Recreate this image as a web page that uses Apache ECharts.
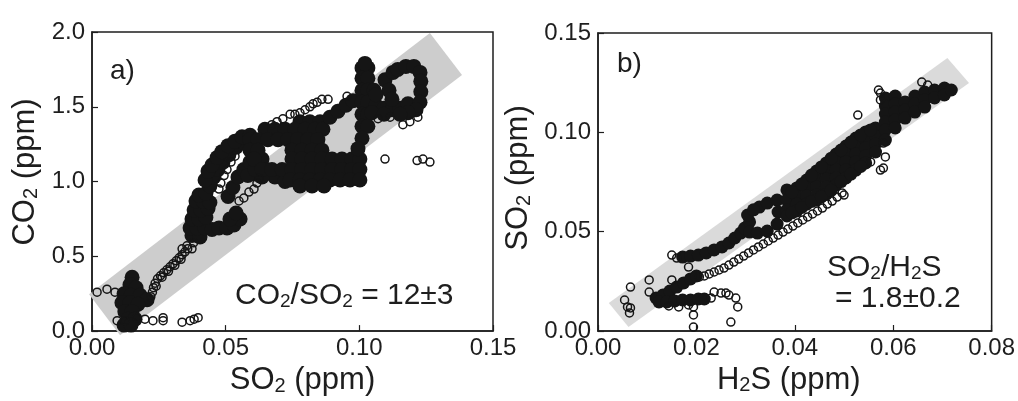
<!DOCTYPE html>
<html>
<head>
<meta charset="utf-8">
<script src="https://cdn.jsdelivr.net/npm/echarts@6/dist/echarts.min.js"></script>
<style>
  html, body { margin: 0; padding: 0; background: #fff; }
  #main { width: 1018px; height: 401px; }
</style>
</head>
<body>
<div id="main"></div>
<script>
// axis ranges: [min, max, interval]
var aXRange = [0, 0.15, 0.05];
var aYRange = [0, 2.0, 0.5];
var bXRange = [0, 0.08, 0.02];
var bYRange = [0, 0.15, 0.05];

// grey ratio bands (corners, data units)
var bandA = [[-0.0011, 0.247], [0.0105, -0.027], [0.1384, 1.713], [0.1264, 1.993]];
var bandB = [[0.0022, 0.0141], [0.0062, 0.0020], [0.0754, 0.1248], [0.0710, 0.1374]];

// a) SO2 vs CO2, dense parts of the cloud
var aDense = [
  [0.0150,0.36],[0.0142,0.31],[0.0165,0.29],[0.0120,0.25],[0.0146,0.24],[0.0180,0.24],[0.0206,0.21],
  [0.0112,0.19],[0.0142,0.19],[0.0172,0.18],[0.0123,0.13],[0.0150,0.13],[0.0135,0.08],[0.0161,0.08],
  [0.0120,0.04],[0.0146,0.04],
  [0.0374,0.64],[0.0404,0.63],[0.0367,0.69],[0.0393,0.69],[0.0423,0.69],[0.0449,0.68],[0.0475,0.69],
  [0.0505,0.69],[0.0531,0.71],[0.0554,0.75],[0.0374,0.75],[0.0400,0.75],[0.0426,0.76],[0.0516,0.75],
  [0.0539,0.79],[0.0382,0.81],[0.0408,0.81],[0.0434,0.82],[0.0389,0.87],[0.0415,0.87],[0.0441,0.86],
  [0.0400,0.91],[0.0426,0.92],
  [0.0441,0.97],[0.0456,1.03],[0.0471,1.08],[0.0490,1.13],[0.0512,1.18],[0.0539,1.23],[0.0568,1.26],
  [0.0423,1.01],[0.0434,1.07],[0.0449,1.11],[0.0468,1.16],[0.0486,1.20],[0.0509,1.24],[0.0535,1.27],
  [0.0561,1.30],[0.0591,1.31],
  [0.0509,0.90],[0.0527,0.96],[0.0546,1.03],[0.0568,1.08],[0.0591,1.13],[0.0613,1.18],[0.0636,1.15],
  [0.0651,1.08],[0.0613,1.05],[0.0583,1.04],[0.0684,1.03],[0.0722,1.00],
  [0.0636,1.03],[0.0610,1.08],
  [0.0778,1.40],[0.0815,1.40],[0.0853,1.40],
  [0.0647,1.35],[0.0684,1.35],[0.0722,1.35],[0.0759,1.35],[0.0797,1.35],[0.0834,1.35],[0.0864,1.35],
  [0.0591,1.28],[0.0621,1.28],[0.0658,1.28],[0.0696,1.28],[0.0733,1.28],[0.0770,1.28],[0.0808,1.28],[0.0845,1.28],
  [0.0591,1.21],[0.0621,1.21],[0.0748,1.21],[0.0785,1.21],[0.0823,1.21],[0.0860,1.21],
  [0.0606,1.15],[0.0748,1.15],[0.0785,1.15],[0.0823,1.15],[0.0860,1.15],[0.0898,1.15],[0.0935,1.15],[0.0972,1.15],[0.1002,1.15],
  [0.0636,1.08],[0.0673,1.08],[0.0711,1.08],[0.0748,1.08],[0.0785,1.08],[0.0823,1.08],[0.0860,1.08],[0.0898,1.08],
  [0.0935,1.08],[0.0972,1.08],[0.1002,1.08],
  [0.0741,1.01],[0.0778,1.01],[0.0815,1.01],[0.0853,1.01],[0.0890,1.01],[0.0928,1.01],[0.0965,1.01],[0.1002,1.01],
  [0.0778,0.97],[0.0823,0.97],[0.0868,0.97],
  [0.0890,1.43],[0.0920,1.47],[0.0950,1.51],[0.0976,1.54],
  [0.1010,1.76],[0.1032,1.76],[0.1010,1.69],[0.1032,1.69],[0.1010,1.61],[0.1032,1.61],[0.1010,1.53],[0.1032,1.53],
  [0.1010,1.45],[0.1032,1.45],[0.1010,1.37],[0.1032,1.37],[0.1010,1.29],[0.1021,1.79],[0.0995,1.22],
  [0.1062,1.51],[0.1092,1.49],[0.1122,1.48],[0.1152,1.49],[0.1182,1.52],[0.1047,1.46],[0.1092,1.45],
  [0.1096,1.68],[0.1111,1.61],[0.1122,1.55],[0.1055,1.61],[0.1062,1.58],[0.1126,1.73],[0.1144,1.75],[0.1174,1.77],
  [0.1204,1.77],[0.1227,1.73],[0.1230,1.67],[0.1230,1.60],[0.1227,1.53],[0.1212,1.48],[0.1182,1.46],[0.1152,1.45]
];

// a) single open circles
var aOpen = [
  [0.0019,0.26],[0.0056,0.28],[0.0086,0.26],
  [0.0094,0.07],[0.0123,0.07],[0.0168,0.09],[0.0198,0.08],[0.0228,0.07],[0.0266,0.09],[0.0266,0.07],
  [0.0337,0.06],[0.0367,0.07],[0.0382,0.08],[0.0397,0.09],
  [0.0220,0.23],[0.0226,0.26],[0.0230,0.29],[0.0236,0.32],[0.0245,0.35],[0.0256,0.37],[0.0268,0.39],
  [0.0280,0.41],[0.0292,0.43],[0.0303,0.45],[0.0315,0.47],[0.0326,0.49],[0.0337,0.51],[0.0348,0.53],
  [0.0358,0.55],[0.0240,0.30],[0.0262,0.36],[0.0286,0.40],[0.0310,0.44],[0.0333,0.48],[0.0337,0.55],
  [0.0355,0.57],[0.0374,0.55],[0.0380,0.59],
  [0.0475,0.95],[0.0482,0.99],[0.0494,1.04],[0.0505,1.08],[0.0520,1.13],[0.0535,1.17],
  [0.0550,0.87],[0.0568,0.89],[0.0587,0.93],[0.0606,0.95],[0.0617,0.99],[0.0625,1.02],
  [0.0673,1.38],[0.0692,1.40],[0.0714,1.42],[0.0741,1.45],[0.0759,1.45],[0.0778,1.46],[0.0797,1.48],
  [0.0815,1.50],[0.0827,1.52],[0.0842,1.53],[0.0860,1.55],[0.0883,1.55],[0.0954,1.57],
  [0.1070,1.42],[0.1115,1.43],[0.1163,1.38],[0.1219,1.43],[0.1189,1.40],
  [0.1096,1.15],[0.1216,1.14],[0.1238,1.15],[0.1264,1.13]
];

// b) H2S vs SO2, dense parts
var bDense = [
  [0.0172,0.0372],[0.0188,0.0377],[0.0204,0.0382],[0.0220,0.0393],[0.0236,0.0408],[0.0252,0.0423],
  [0.0266,0.0443],[0.0278,0.0468],[0.0290,0.0493],[0.0298,0.0518],
  [0.0308,0.0549],[0.0308,0.0498],[0.0324,0.0493],[0.0328,0.0624],[0.0344,0.0644],[0.0344,0.0503],
  [0.0304,0.0584],[0.0316,0.0610],
  [0.0364,0.0659],[0.0366,0.0599],[0.0364,0.0538],
  [0.0384,0.0710],[0.0384,0.0659],[0.0384,0.0609],[0.0384,0.0579],
  [0.0404,0.0720],[0.0404,0.0679],[0.0404,0.0639],[0.0404,0.0604],
  [0.0424,0.0760],[0.0424,0.0720],[0.0424,0.0679],[0.0424,0.0639],
  [0.0444,0.0805],[0.0444,0.0765],[0.0444,0.0725],[0.0444,0.0684],[0.0444,0.0659],
  [0.0464,0.0846],[0.0464,0.0805],[0.0464,0.0765],[0.0464,0.0725],[0.0464,0.0689],
  [0.0484,0.0891],[0.0484,0.0851],[0.0484,0.0810],[0.0484,0.0770],[0.0484,0.0735],
  [0.0504,0.0931],[0.0504,0.0891],[0.0504,0.0851],[0.0504,0.0810],[0.0504,0.0770],
  [0.0524,0.0971],[0.0524,0.0931],[0.0524,0.0891],[0.0524,0.0851],[0.0524,0.0810],
  [0.0544,0.1002],[0.0544,0.0961],[0.0544,0.0921],[0.0544,0.0881],[0.0544,0.0846],
  [0.0564,0.1022],[0.0564,0.0981],[0.0564,0.0941],[0.0564,0.0901],
  [0.0584,0.1173],[0.0584,0.1132],[0.0584,0.1092],[0.0584,0.1052],[0.0584,0.1012],[0.0584,0.0961],
  [0.0604,0.1183],[0.0604,0.1142],[0.0604,0.1102],[0.0604,0.1062],[0.0604,0.1022],
  [0.0624,0.1153],[0.0624,0.1112],[0.0624,0.1072],
  [0.0644,0.1183],[0.0644,0.1142],[0.0644,0.1102],
  [0.0664,0.1203],[0.0664,0.1163],[0.0664,0.1127],
  [0.0684,0.1213],[0.0684,0.1173],[0.0704,0.1223],[0.0704,0.1188],[0.0718,0.1213],
  [0.0394,0.0700],[0.0414,0.0740],[0.0434,0.0785],[0.0454,0.0826],[0.0474,0.0870],[0.0494,0.0911],
  [0.0514,0.0951],[0.0534,0.0987],[0.0554,0.1012],
  [0.0394,0.0595],[0.0414,0.0622],[0.0434,0.0652],[0.0454,0.0676],[0.0474,0.0708],[0.0494,0.0752],
  [0.0514,0.0790],[0.0534,0.0828],
  [0.0118,0.0166],[0.0132,0.0181],[0.0146,0.0201],[0.0160,0.0221],[0.0174,0.0242],[0.0188,0.0262],[0.0200,0.0277],
  [0.0124,0.0146],[0.0140,0.0146],[0.0156,0.0151],[0.0172,0.0156],[0.0188,0.0156],[0.0204,0.0161],[0.0216,0.0161]
];

// b) open circles
var bOpen = [
  [0.0206,0.0272],[0.0216,0.0277],[0.0226,0.0287],[0.0236,0.0297],[0.0246,0.0307],[0.0256,0.0317],
  [0.0266,0.0332],[0.0276,0.0347],[0.0286,0.0362],[0.0296,0.0377],[0.0306,0.0393],[0.0316,0.0408],
  [0.0326,0.0423],[0.0336,0.0438],[0.0346,0.0453],[0.0356,0.0468],[0.0366,0.0483],[0.0376,0.0498],
  [0.0386,0.0513],[0.0396,0.0528],[0.0406,0.0544],[0.0416,0.0559],[0.0426,0.0574],[0.0436,0.0589],
  [0.0446,0.0604],[0.0456,0.0619],[0.0466,0.0639],[0.0476,0.0654],[0.0486,0.0674],[0.0496,0.0695],
  [0.0066,0.0221],[0.0104,0.0257],[0.0150,0.0257],[0.0184,0.0322],[0.0054,0.0156],[0.0060,0.0121],
  [0.0064,0.0091],[0.0066,0.0116],[0.0104,0.0196],[0.0194,0.0121],[0.0194,0.0081],[0.0194,0.0020],
  [0.0230,0.0166],[0.0236,0.0196],[0.0250,0.0191],[0.0260,0.0191],[0.0266,0.0181],[0.0280,0.0166],
  [0.0284,0.0121],[0.0270,0.0045],[0.0150,0.0382],[0.0160,0.0367],
  [0.0144,0.0126],[0.0164,0.0121],[0.0184,0.0131],
  [0.0570,0.1213],[0.0574,0.1198],[0.0574,0.1163],[0.0528,0.1087],[0.0658,0.1253],[0.0670,0.1238],
  [0.0580,0.0946],[0.0584,0.0876],[0.0580,0.0820],[0.0574,0.0810],[0.0554,0.0851],[0.0500,0.0684]
];

var font = 'Liberation Sans, Arial, Helvetica, sans-serif';
var ink = '#1e1e1e';

var nameRich = {
  n: { fontSize: 31, fontFamily: font, color: ink, fill: ink, lineHeight: 34, verticalAlign: 'bottom' },
  s: { fontSize: 20, fontFamily: font, color: ink, fill: ink, lineHeight: 22, verticalAlign: 'bottom' }
};
var noteRich = {
  n: { fontSize: 30, fontFamily: font, color: ink, fill: ink, lineHeight: 32, verticalAlign: 'bottom' },
  s: { fontSize: 19, fontFamily: font, color: ink, fill: ink, lineHeight: 21, verticalAlign: 'bottom' }
};

function xAxisFor(range, grid, name, digits, shift, gap) {
  return {
    type: 'value', gridIndex: grid, min: range[0], max: range[1], interval: range[2],
    name: name, nameLocation: 'middle', nameGap: gap,
    nameTextStyle: { rich: nameRich, padding: shift },
    axisLine: { lineStyle: { color: ink, width: 1.5 } },
    axisTick: { inside: true, length: 6, lineStyle: { color: ink, width: 1.2 } },
    splitLine: { show: false },
    axisLabel: {
      fontSize: 24, fontFamily: font, color: ink, margin: 5,
      formatter: function (v) { return v.toFixed(digits); }
    }
  };
}

function yAxisFor(range, grid, digits, lift) {
  return {
    type: 'value', gridIndex: grid, min: range[0], max: range[1], interval: range[2],
    axisLine: { lineStyle: { color: ink, width: 1.5 } },
    axisTick: { inside: true, length: 6, lineStyle: { color: ink, width: 1.2 } },
    splitLine: { show: false },
    axisLabel: {
      fontSize: 24, fontFamily: font, color: ink, margin: 7, padding: [0, 0, lift, 0],
      formatter: function (v) { return v.toFixed(digits); }
    }
  };
}

function band(points, axis, color) {
  return {
    type: 'custom', xAxisIndex: axis, yAxisIndex: axis, silent: true, clip: false, z: 1,
    data: [0],
    renderItem: function (params, api) {
      var pts = points.map(function (p) { return api.coord(p); });
      return { type: 'polygon', shape: { points: pts }, style: { fill: color } };
    }
  };
}

function dots(data, axis, size, filled) {
  return {
    type: 'scatter', xAxisIndex: axis, yAxisIndex: axis, data: data,
    symbol: 'circle', symbolSize: size, silent: true, z: filled ? 2 : 3,
    itemStyle: {
      color: filled ? '#151515' : 'rgba(255,255,255,0)',
      borderColor: '#151515', borderWidth: filled ? 0 : 1.5, opacity: 1
    }
  };
}

var chart = echarts.init(document.getElementById('main'));
var option = {
  animation: false,
  backgroundColor: '#fff',
  grid: [
    { left: 92, top: 32, width: 401, height: 300, show: true, borderColor: ink, borderWidth: 1.5 },
    { left: 598, top: 33, width: 400, height: 298, show: true, borderColor: ink, borderWidth: 1.5 }
  ],
  xAxis: [
    xAxisFor(aXRange, 0, '{n|SO}{s|2}{n| (ppm)}', 2, [0, 0, 0, 20], 27),
    xAxisFor(bXRange, 1, '{n|H}{s|2}{n|S (ppm)}', 2, [0, 12, 0, 0], 28)
  ],
  yAxis: [
    yAxisFor(aYRange, 0, 1, 12),
    yAxisFor(bYRange, 1, 2, 20)
  ],
  graphic: [
    { type: 'text', x: 24, y: 172, rotation: Math.PI / 2,
      style: { text: '{n|CO}{s|2}{n| (ppm)}', rich: nameRich, align: 'center', verticalAlign: 'middle' } },
    { type: 'text', x: 517, y: 178, rotation: Math.PI / 2,
      style: { text: '{n|SO}{s|2}{n| (ppm)}', rich: nameRich, align: 'center', verticalAlign: 'middle' } },
    { type: 'text', x: 110, y: 71,
      style: { text: 'a)', fontSize: 28, fontFamily: font, fill: ink, align: 'left', verticalAlign: 'middle' } },
    { type: 'text', x: 617, y: 64,
      style: { text: 'b)', fontSize: 28, fontFamily: font, fill: ink, align: 'left', verticalAlign: 'middle' } },
    { type: 'text', x: 235, y: 279,
      style: { text: '{n|CO}{s|2}{n|/SO}{s|2}{n| = 12±3}', rich: noteRich, align: 'left', verticalAlign: 'top' } },
    { type: 'text', x: 827, y: 251,
      style: { text: '{n|SO}{s|2}{n|/H}{s|2}{n|S}', rich: noteRich, align: 'left', verticalAlign: 'top' } },
    { type: 'text', x: 835, y: 282,
      style: { text: '{n|= 1.8±0.2}', rich: noteRich, align: 'left', verticalAlign: 'top' } }
  ],
  series: [
    band(bandA, 0, '#cdcdcd'),
    dots(aDense, 0, 15, true),
    dots(aOpen, 0, 8, false),
    band(bandB, 1, '#dadada'),
    dots(bDense, 1, 13, true),
    dots(bOpen, 1, 8, false)
  ]
};
chart.setOption(option);
</script>
</body>
</html>
